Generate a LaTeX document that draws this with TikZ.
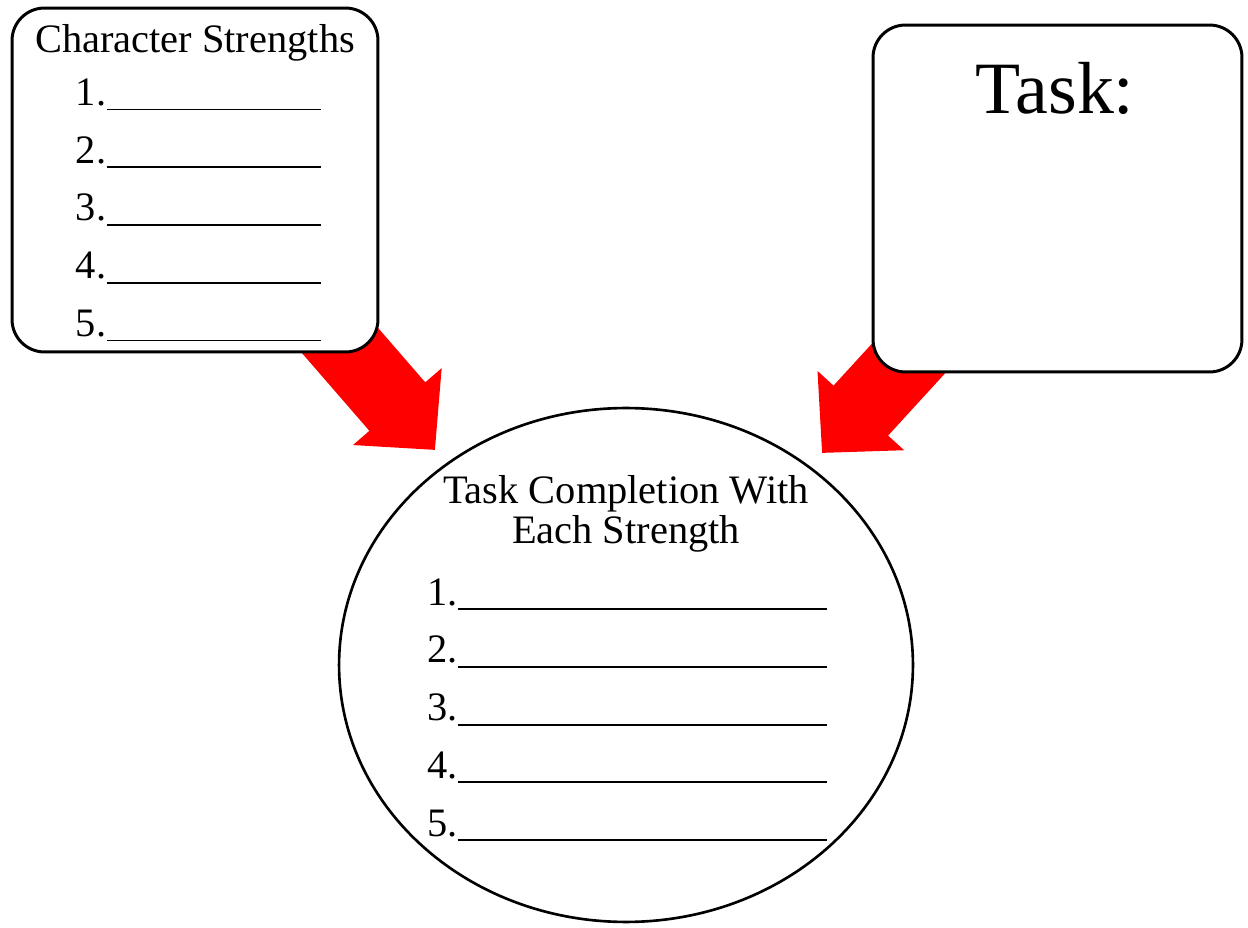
\documentclass[tikz,border=0pt]{standalone}
\usepackage{fontspec}
\setmainfont{Liberation Serif}
\usepackage{tikz}
\usetikzlibrary{positioning}
\usetikzlibrary{calc,arrows.meta,backgrounds}
\usetikzlibrary{shapes.geometric}
\newcommand{\listfont}{\fontsize{23}{27}\selectfont}
\newcommand{\taskfont}{\fontsize{42}{48}\selectfont}

\tikzset{
    roundbox/.style = {draw, line width=1.7pt, rounded corners=0.65cm, fill=white},
    fatarrow/.style = {red, line width=1.48cm, -{Triangle[length=1.15cm, width=2.28cm]}},
    blankline/.style = {line width=1.1pt},
}

\begin{document}
\begin{tikzpicture}[x=0.02cm, y=-0.02cm]
    \useasboundingbox (0,0) rectangle (1248,928);

    %Boxes
    \node[roundbox, minimum width=7.32cm, minimum height=6.88cm] (CharBox) at (195,180) {};
    \node[roundbox, minimum width=7.38cm, minimum height=6.94cm] (TaskBox) at (1057.5,198.5) {};
    \node[draw, ellipse, line width=1.5pt, fill=white, minimum width=11.48cm, minimum height=10.28cm] (DoneCircle) at (626,665) {};

    %Titles
    \node[below = 0.92 cm of CharBox.north, anchor=base, font=\listfont] (CharTitle) {Character Strengths};
    \node[below = 1.80 cm of TaskBox.north, xshift=-0.05cm, anchor=base, font=\taskfont] (TaskTitle) {Task:};
    \node[below = 1.94 cm of DoneCircle.north, anchor=base, font=\listfont] (DoneTitleA) {Task Completion With};
    \node[below = 0.80 cm of DoneTitleA.base, anchor=base, font=\listfont] (DoneTitleB) {Each Strength};

    %-------------------------------------------
    %Blank lists
    \foreach \i [evaluate=\i as \down using {1.98+(\i-1)*1.155},
                 evaluate=\i as \up using {1.20-(\i-1)*1.156}] in {1,...,5}{
        \node[below right = \down cm and 1.30 cm of CharBox.north west, anchor=base west, inner sep=0pt, font=\listfont] (CharNum\i) {\i.};
        \draw[blankline] ([yshift=-0.08cm]CharNum\i.base east) -- ++(214,0);

        \node[above right = \up cm and 1.78 cm of DoneCircle.west, anchor=base west, inner sep=0pt, font=\listfont] (DoneNum\i) {\i.};
        \draw[blankline] ([yshift=-0.08cm]DoneNum\i.base east) -- ++(369,0);
    }

    %Arrows (behind the boxes)
    \coordinate (LeftTail) at (317,314);
    \coordinate (LeftTip) at (435,450);
    \coordinate (RightTail) at (930,335);
    \coordinate (RightTip) at (822,453);
    \begin{scope}[on background layer]
        \draw[fatarrow] (LeftTail) -- (LeftTip);
        \draw[fatarrow] (RightTail) -- (RightTip);
    \end{scope}

\end{tikzpicture}
\end{document}
